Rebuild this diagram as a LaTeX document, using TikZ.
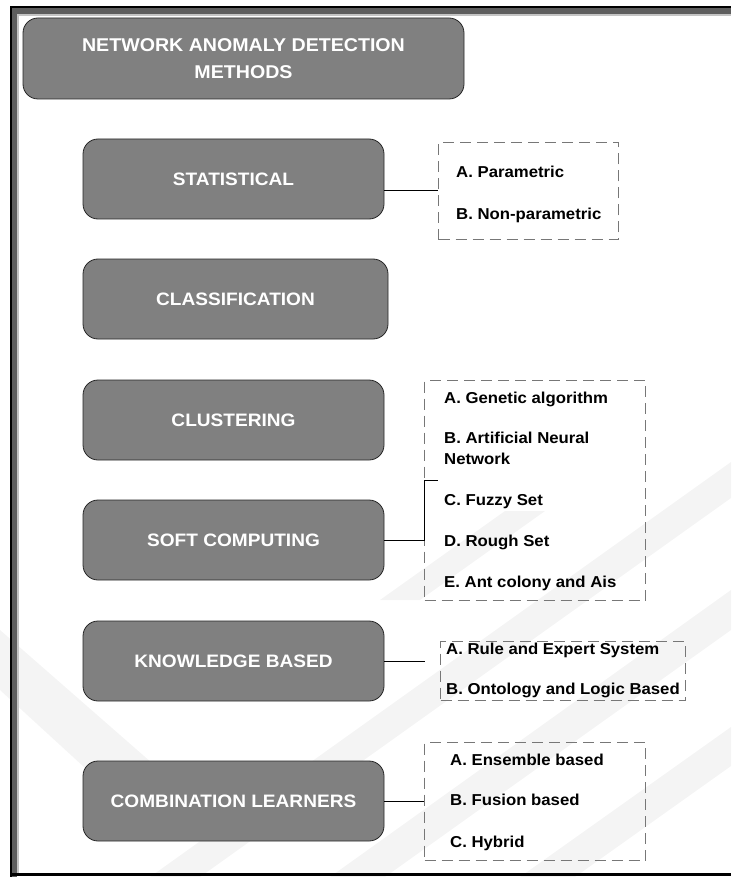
\documentclass[tikz,border=0pt]{standalone}
\usepackage{fontspec}
\setmainfont{Liberation Sans}[FakeStretch=1.06]
\definecolor{boxgrey}{HTML}{808080}
\definecolor{dashgrey}{HTML}{777777}
\definecolor{framegrey}{HTML}{5E5E5E}
\definecolor{framelight}{HTML}{C4C4C4}
\definecolor{wmark}{HTML}{F4F4F4}
\tikzset{
  cat/.style={draw=black!85, fill=boxgrey, rounded corners=15pt, line width=0.8pt,
    text=white, font=\bfseries\fontsize{18}{21}\selectfont, minimum width=301pt,
    minimum height=80pt, inner sep=0pt, align=center},
  listbox/.style={draw=dashgrey, dash pattern=on 11pt off 6pt, line width=1pt,
    inner sep=0pt, anchor=north west},
  item/.style={anchor=base west, font=\bfseries\fontsize{15.8}{17}\selectfont, inner sep=0pt},
  link/.style={draw=black, line width=0.8pt}
}
\begin{document}
\begin{tikzpicture}[x=1pt,y=-1pt]
\useasboundingbox (0,0) rectangle (731,877);
% watermark stripes
\begin{scope}
\fill[wmark] (150,877) -- (200,877) -- (731,498) -- (731,462) -- cycle;
\fill[wmark] (330,877) -- (385,877) -- (731,630) -- (731,590) -- cycle;
\fill[wmark] (520,877) -- (575,877) -- (731,766) -- (731,727) -- cycle;
\fill[wmark] (380,600) -- (420,600) -- (545,511) -- (505,511) -- cycle;
\fill[wmark] (0,630) -- (0,690) -- (120,800) -- (160,770) -- cycle;
\end{scope}
% frame
\fill[framegrey] (12,8) rectangle (731,14);
\fill[framelight] (17,14) rectangle (731,16);
\fill[framegrey] (12,8) rectangle (17,877);
\fill[framelight] (17,14) rectangle (19,873);
\fill[black] (10,6) rectangle (731,8);
\fill[black] (10,6) rectangle (12,877);
\fill[black] (10,873) rectangle (731,876);
% title
\node[cat, minimum width=441pt, minimum height=81pt, font=\bfseries\fontsize{18.5}{27}\selectfont] (title) at (243.5,58.5) {NETWORK ANOMALY DETECTION\\METHODS};
% categories
\node[cat] (stat) at (233.5,179) {STATISTICAL};
\node[cat, minimum width=305pt] (class) at (235.5,299) {CLASSIFICATION};
\node[cat] (clust) at (233.5,420) {CLUSTERING};
\node[cat] (soft) at (233.5,540) {SOFT COMPUTING};
\node[cat] (know) at (233.5,661) {KNOWLEDGE BASED};
\node[cat] (comb) at (233.5,801) {COMBINATION LEARNERS};
% list boxes
\node[listbox, minimum width=180pt, minimum height=97pt] (statlist) at (438,142) {};
\node[listbox, minimum width=221pt, minimum height=220pt] (softlist) at (424,380) {};
\node[listbox, minimum width=245pt, minimum height=59pt] (knowlist) at (440,641) {};
\node[listbox, minimum width=221pt, minimum height=118pt] (comblist) at (424,742) {};
% items
\node[item] (s1) at (456,178) {A. Parametric};
\node[item] (s2) at (456,220) {B. Non-parametric};
\node[item] (c1) at (444,403) {A. Genetic algorithm};
\node[item] (c2) at (444,443) {B. Artificial Neural};
\node[item] (c2b) at (444,464) {Network};
\node[item] (c3) at (444,505) {C. Fuzzy Set};
\node[item] (c4) at (444,546) {D. Rough Set};
\node[item] (c5) at (444,587) {E. Ant colony and Ais};
\node[item] (k1) at (446,654) {A. Rule and Expert System};
\node[item] (k2) at (446,694) {B. Ontology and Logic Based};
\node[item] (m1) at (450,765) {A. Ensemble based};
\node[item] (m2) at (450,805) {B. Fusion based};
\node[item] (m3) at (450,847) {C. Hybrid};
% connectors
\coordinate (sy) at (0,190);
\draw[link] (stat.east |- sy) -- (statlist.west |- sy);
\coordinate (sc) at (438,480);
\draw[link] (soft.east) -- (softlist.west |- soft.east) -- (softlist.west |- sc) -- (sc);
\coordinate (ke) at (425,661);
\draw[link] (know.east) -- (ke);
\draw[link] (comb.east) -- (comblist.west |- comb.east);
\end{tikzpicture}
\end{document}
